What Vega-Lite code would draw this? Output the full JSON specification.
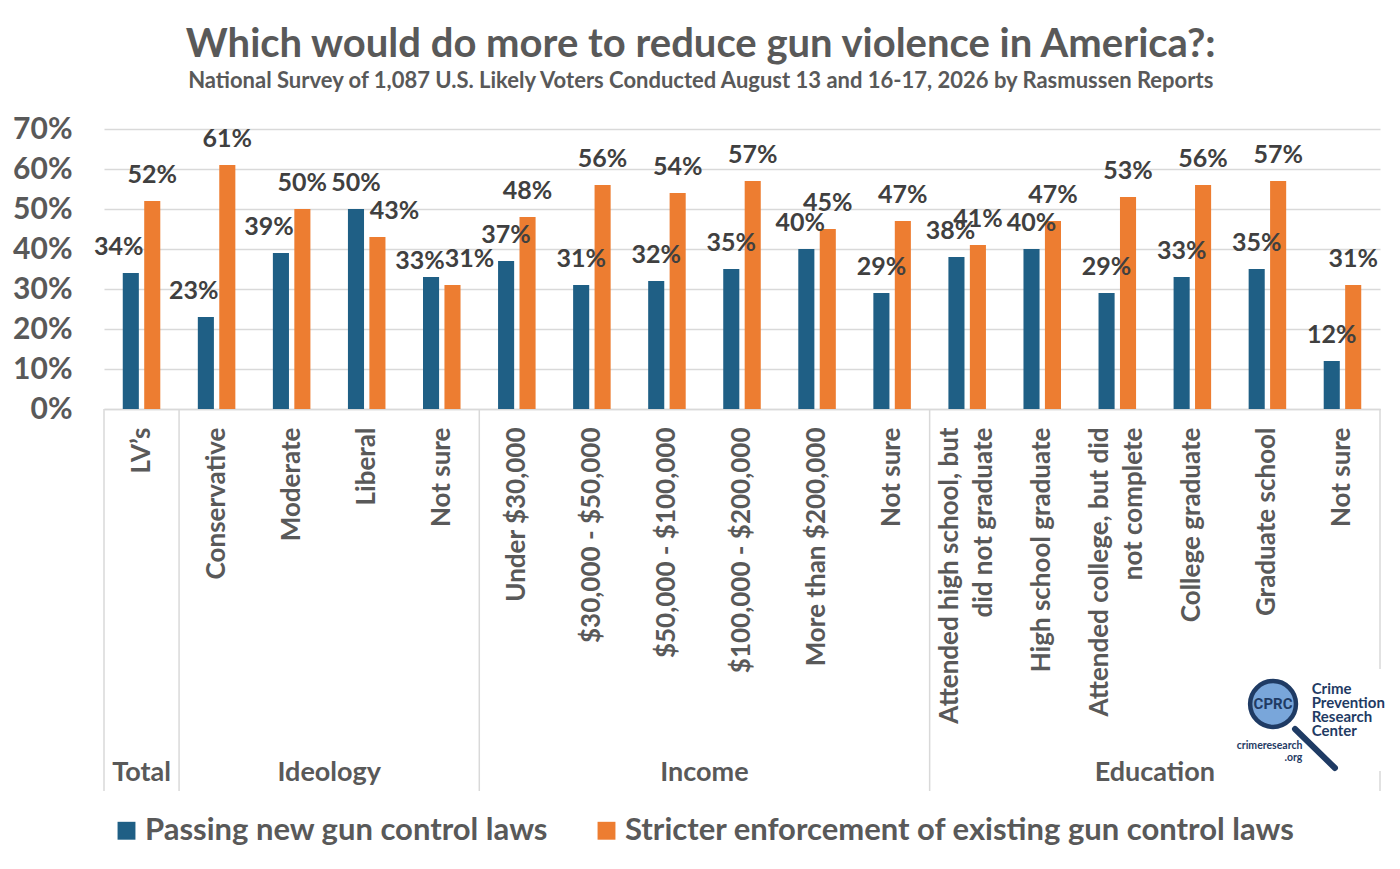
{
  "$schema": "https://vega.github.io/schema/vega-lite/v6.json",
  "width": 1276,
  "height": 280,
  "autosize": "none",
  "padding": {"left": 104, "top": 129, "right": 20, "bottom": 460},
  "background": "white",
  "title": {
    "text": "Which would do more to reduce gun violence in America?:",
    "subtitle": "National Survey of 1,087 U.S. Likely Voters Conducted August 13 and 16-17, 2026 by Rasmussen Reports",
    "frame": "bounds",
    "anchor": "middle",
    "dx": 2,
    "font": "Lato",
    "fontSize": 40,
    "fontWeight": "bold",
    "color": "#595959",
    "subtitleFont": "Lato",
    "subtitleFontSize": 22,
    "subtitleFontWeight": "bold",
    "subtitleColor": "#595959",
    "subtitlePadding": 6,
    "offset": 22
  },
  "config": {
    "view": {"stroke": null},
    "font": "Lato"
  },
  "datasets": {
    "survey": [
      {"cat": "Total:LV’s", "s": "Passing new gun control laws", "v": 0.34},
      {"cat": "Total:LV’s", "s": "Stricter enforcement of existing gun control laws", "v": 0.52},
      {"cat": "Ideology:Conservative", "s": "Passing new gun control laws", "v": 0.23},
      {"cat": "Ideology:Conservative", "s": "Stricter enforcement of existing gun control laws", "v": 0.61},
      {"cat": "Ideology:Moderate", "s": "Passing new gun control laws", "v": 0.39},
      {"cat": "Ideology:Moderate", "s": "Stricter enforcement of existing gun control laws", "v": 0.50},
      {"cat": "Ideology:Liberal", "s": "Passing new gun control laws", "v": 0.50},
      {"cat": "Ideology:Liberal", "s": "Stricter enforcement of existing gun control laws", "v": 0.43},
      {"cat": "Ideology:Not sure", "s": "Passing new gun control laws", "v": 0.33},
      {"cat": "Ideology:Not sure", "s": "Stricter enforcement of existing gun control laws", "v": 0.31},
      {"cat": "Income:Under $30,000", "s": "Passing new gun control laws", "v": 0.37},
      {"cat": "Income:Under $30,000", "s": "Stricter enforcement of existing gun control laws", "v": 0.48},
      {"cat": "Income:$30,000 - $50,000", "s": "Passing new gun control laws", "v": 0.31},
      {"cat": "Income:$30,000 - $50,000", "s": "Stricter enforcement of existing gun control laws", "v": 0.56},
      {"cat": "Income:$50,000 - $100,000", "s": "Passing new gun control laws", "v": 0.32},
      {"cat": "Income:$50,000 - $100,000", "s": "Stricter enforcement of existing gun control laws", "v": 0.54},
      {"cat": "Income:$100,000 - $200,000", "s": "Passing new gun control laws", "v": 0.35},
      {"cat": "Income:$100,000 - $200,000", "s": "Stricter enforcement of existing gun control laws", "v": 0.57},
      {"cat": "Income:More than $200,000", "s": "Passing new gun control laws", "v": 0.40},
      {"cat": "Income:More than $200,000", "s": "Stricter enforcement of existing gun control laws", "v": 0.45},
      {"cat": "Income:Not sure", "s": "Passing new gun control laws", "v": 0.29},
      {"cat": "Income:Not sure", "s": "Stricter enforcement of existing gun control laws", "v": 0.47},
      {"cat": "Education:Attended high school, but|did not graduate", "s": "Passing new gun control laws", "v": 0.38},
      {"cat": "Education:Attended high school, but|did not graduate", "s": "Stricter enforcement of existing gun control laws", "v": 0.41},
      {"cat": "Education:High school graduate", "s": "Passing new gun control laws", "v": 0.40},
      {"cat": "Education:High school graduate", "s": "Stricter enforcement of existing gun control laws", "v": 0.47},
      {"cat": "Education:Attended college, but did|not complete", "s": "Passing new gun control laws", "v": 0.29},
      {"cat": "Education:Attended college, but did|not complete", "s": "Stricter enforcement of existing gun control laws", "v": 0.53},
      {"cat": "Education:College graduate", "s": "Passing new gun control laws", "v": 0.33},
      {"cat": "Education:College graduate", "s": "Stricter enforcement of existing gun control laws", "v": 0.56},
      {"cat": "Education:Graduate school", "s": "Passing new gun control laws", "v": 0.35},
      {"cat": "Education:Graduate school", "s": "Stricter enforcement of existing gun control laws", "v": 0.57},
      {"cat": "Education:Not sure", "s": "Passing new gun control laws", "v": 0.12},
      {"cat": "Education:Not sure", "s": "Stricter enforcement of existing gun control laws", "v": 0.31}
    ],
    "separators": [
      {"cat": "Total:LV’s"},
      {"cat": "Ideology:Conservative"},
      {"cat": "Income:Under $30,000"},
      {"cat": "Education:Attended high school, but|did not graduate"}
    ],
    "groups": [
      {"cat": "Ideology:Liberal", "name": "Ideology"},
      {"cat": "Income:$100,000 - $200,000", "name": "Income"},
      {"cat": "Education:College graduate", "name": "Education"}
    ]
  },
  "encoding": {
    "x": {
      "field": "cat",
      "type": "nominal",
      "scale": {
        "domain": [
          "Total:LV’s", "Ideology:Conservative", "Ideology:Moderate", "Ideology:Liberal", "Ideology:Not sure",
          "Income:Under $30,000", "Income:$30,000 - $50,000", "Income:$50,000 - $100,000", "Income:$100,000 - $200,000",
          "Income:More than $200,000", "Income:Not sure",
          "Education:Attended high school, but|did not graduate", "Education:High school graduate",
          "Education:Attended college, but did|not complete", "Education:College graduate",
          "Education:Graduate school", "Education:Not sure"
        ],
        "paddingInner": 0.5,
        "paddingOuter": 0.25
      },
      "axis": {
        "title": null,
        "labelAngle": 270,
        "labelAlign": "right",
        "labelBaseline": "middle",
        "labelExpr": "split(split(datum.label, ':')[1], '|')",
        "labelOffset": {"condition": {"test": "indexof(datum.label, '|') >= 0", "value": -17}, "value": 0},
        "labelFont": "Lato",
        "labelFontSize": 26,
        "labelFontWeight": "bold",
        "labelColor": "#595959",
        "labelPadding": 18,
        "labelLineHeight": 34,
        "labelLimit": 0,
        "ticks": false,
        "domainColor": "#d9d9d9",
        "domainWidth": 1.5
      }
    },
    "y": {
      "type": "quantitative",
      "scale": {"domain": [0, 0.7], "nice": false},
      "axis": {
        "title": null,
        "values": [0, 0.1, 0.2, 0.3, 0.4, 0.5, 0.6, 0.7],
        "format": ".0%",
        "labelFont": "Lato",
        "labelFontSize": 30,
        "labelFontWeight": "bold",
        "labelColor": "#595959",
        "labelPadding": 32,
        "ticks": false,
        "domain": false,
        "gridColor": "#d9d9d9",
        "gridWidth": 1.5
      }
    }
  },
  "layer": [
    {
      "data": {"name": "survey"},
      "mark": {"type": "bar"},
      "encoding": {
        "xOffset": {"field": "s", "type": "nominal", "scale": {"paddingInner": 0.25}},
        "y": {"field": "v", "type": "quantitative"},
        "color": {
          "field": "s",
          "type": "nominal",
          "scale": {
            "domain": ["Passing new gun control laws", "Stricter enforcement of existing gun control laws"],
            "range": ["#1f5f85", "#ed7d31"]
          },
          "legend": {
            "title": null,
            "orient": "none",
            "legendX": 7,
            "legendY": 686,
            "direction": "horizontal",
            "columns": 2,
            "symbolType": "square",
            "symbolSize": 320,
            "symbolStrokeWidth": 0,
            "labelFont": "Lato",
            "labelFontSize": 31,
            "labelFontWeight": "bold",
            "labelColor": "#595959",
            "labelLimit": 0,
            "labelOffset": 3,
            "columnPadding": 42
          }
        }
      }
    },
    {
      "data": {"name": "survey"},
      "transform": [{"filter": "!(datum.s == 'Passing new gun control laws' && indexof(['Total:LV’s', 'Ideology:Conservative', 'Ideology:Moderate', 'Ideology:Not sure', 'Income:More than $200,000', 'Education:Attended high school, but|did not graduate'], datum.cat) >= 0) && !(datum.s != 'Passing new gun control laws' && indexof(['Ideology:Liberal', 'Ideology:Not sure'], datum.cat) >= 0)"}],
      "mark": {"type": "text", "baseline": "alphabetic", "dy": -18, "fontSize": 25, "fontWeight": "bold", "color": "#404040", "font": "Lato"},
      "encoding": {
        "xOffset": {"field": "s", "type": "nominal", "scale": {"paddingInner": 0.25}},
        "y": {"field": "v", "type": "quantitative"},
        "text": {"field": "v", "type": "quantitative", "format": ".0%"}
      }
    },
    {
      "data": {"name": "survey"},
      "transform": [{"filter": "datum.s == 'Passing new gun control laws' && indexof(['Total:LV’s', 'Ideology:Conservative', 'Ideology:Moderate'], datum.cat) >= 0"}],
      "mark": {"type": "text", "baseline": "alphabetic", "dy": -18, "dx": -12, "fontSize": 25, "fontWeight": "bold", "color": "#404040", "font": "Lato"},
      "encoding": {
        "xOffset": {"field": "s", "type": "nominal", "scale": {"paddingInner": 0.25}},
        "y": {"field": "v", "type": "quantitative"},
        "text": {"field": "v", "type": "quantitative", "format": ".0%"}
      }
    },
    {
      "data": {"name": "survey"},
      "transform": [{"filter": "datum.s == 'Passing new gun control laws' && datum.cat == 'Ideology:Not sure'"}],
      "mark": {"type": "text", "baseline": "alphabetic", "dy": -8, "dx": -11, "fontSize": 25, "fontWeight": "bold", "color": "#404040", "font": "Lato"},
      "encoding": {
        "xOffset": {"field": "s", "type": "nominal", "scale": {"paddingInner": 0.25}},
        "y": {"field": "v", "type": "quantitative"},
        "text": {"field": "v", "type": "quantitative", "format": ".0%"}
      }
    },
    {
      "data": {"name": "survey"},
      "transform": [{"filter": "datum.s == 'Passing new gun control laws' && indexof(['Income:More than $200,000', 'Education:Attended high school, but|did not graduate'], datum.cat) >= 0"}],
      "mark": {"type": "text", "baseline": "alphabetic", "dy": -18, "dx": -6, "fontSize": 25, "fontWeight": "bold", "color": "#404040", "font": "Lato"},
      "encoding": {
        "xOffset": {"field": "s", "type": "nominal", "scale": {"paddingInner": 0.25}},
        "y": {"field": "v", "type": "quantitative"},
        "text": {"field": "v", "type": "quantitative", "format": ".0%"}
      }
    },
    {
      "data": {"name": "survey"},
      "transform": [{"filter": "datum.s != 'Passing new gun control laws' && indexof(['Ideology:Liberal', 'Ideology:Not sure'], datum.cat) >= 0"}],
      "mark": {"type": "text", "baseline": "alphabetic", "dy": -18, "dx": 17, "fontSize": 25, "fontWeight": "bold", "color": "#404040", "font": "Lato"},
      "encoding": {
        "xOffset": {"field": "s", "type": "nominal", "scale": {"paddingInner": 0.25}},
        "y": {"field": "v", "type": "quantitative"},
        "text": {"field": "v", "type": "quantitative", "format": ".0%"}
      }
    },
    {
      "data": {"name": "separators"},
      "mark": {"type": "rule", "color": "#d9d9d9", "strokeWidth": 1.5},
      "encoding": {
        "x": {"field": "cat", "type": "nominal", "bandPosition": -0.5},
        "y": {"datum": 0},
        "y2": {"datum": -0.955}
      }
    },
    {
      "data": {"values": [{"cat": "Education:Not sure"}]},
      "mark": {"type": "rule", "color": "#d9d9d9", "strokeWidth": 1.5},
      "encoding": {
        "x": {"field": "cat", "type": "nominal", "bandPosition": 1.5},
        "y": {"datum": 0},
        "y2": {"datum": -0.65}
      }
    },
    {
      "data": {"values": [{"cat": "Education:Not sure"}]},
      "mark": {"type": "rule", "color": "#d9d9d9", "strokeWidth": 1.5},
      "encoding": {
        "x": {"field": "cat", "type": "nominal", "bandPosition": 1.5},
        "y": {"datum": -0.905},
        "y2": {"datum": -0.955}
      }
    },
    {
      "data": {"name": "groups"},
      "mark": {"type": "text", "baseline": "middle", "align": "center", "fontSize": 27, "fontWeight": "bold", "color": "#595959", "font": "Lato"},
      "encoding": {
        "x": {"field": "cat", "type": "nominal", "bandPosition": -0.5},
        "y": {"datum": -0.91},
        "text": {"field": "name"}
      }
    },
    {
      "data": {"values": [{"cat": "Total:LV’s", "name": "Total"}]},
      "mark": {"type": "text", "baseline": "middle", "align": "center", "fontSize": 27, "fontWeight": "bold", "color": "#595959", "font": "Lato"},
      "encoding": {
        "x": {"field": "cat", "type": "nominal", "bandPosition": 0.5},
        "y": {"datum": -0.91},
        "text": {"field": "name"}
      }
    },
    {
      "data": {"values": [{"cat": "Education:Not sure"}]},
      "mark": {"type": "rule", "color": "#1f3b64", "strokeWidth": 6, "strokeCap": "round"},
      "encoding": {
        "x": {"datum": "Education:Not sure", "bandPosition": -0.765},
        "x2": {"datum": "Education:Not sure", "bandPosition": 0.3},
        "y": {"datum": -0.80},
        "y2": {"datum": -0.8975}
      }
    },
    {
      "data": {"values": [{"cat": "Education:Graduate school"}]},
      "mark": {"type": "point", "shape": "circle", "filled": true, "size": 2100, "fill": "#79a6da", "stroke": "#1f3b64", "strokeWidth": 4.5, "opacity": 1},
      "encoding": {
        "x": {"field": "cat", "type": "nominal", "bandPosition": 0.65},
        "y": {"datum": -0.7375}
      }
    },
    {
      "data": {"values": [{"cat": "Education:Graduate school", "t": "CPRC"}]},
      "mark": {"type": "text", "baseline": "middle", "align": "center", "fontSize": 15, "fontWeight": "bold", "color": "#1f3b64", "font": "Roboto"},
      "encoding": {
        "x": {"field": "cat", "type": "nominal", "bandPosition": 0.65},
        "y": {"datum": -0.7375},
        "text": {"field": "t"}
      }
    },
    {
      "data": {"values": [{"cat": "Education:Not sure", "t": ["Crime", "Prevention", "Research", "Center"]}]},
      "mark": {"type": "text", "baseline": "middle", "align": "left", "dx": -12, "fontSize": 15, "lineHeight": 14, "fontWeight": "bold", "color": "#1f3b64", "font": "Lato"},
      "encoding": {
        "x": {"field": "cat", "type": "nominal", "bandPosition": 0},
        "y": {"datum": -0.70},
        "text": {"field": "t"}
      }
    },
    {
      "data": {"values": [{"cat": "Education:Graduate school", "t": ["crimeresearch", ".org"]}]},
      "mark": {"type": "text", "baseline": "middle", "align": "right", "dx": 35, "fontSize": 10.5, "lineHeight": 12, "fontWeight": "bold", "color": "#1f3b64", "font": "Lato"},
      "encoding": {
        "x": {"field": "cat", "type": "nominal", "bandPosition": 0.5},
        "y": {"datum": -0.8425},
        "text": {"field": "t"}
      }
    }
  ]
}
